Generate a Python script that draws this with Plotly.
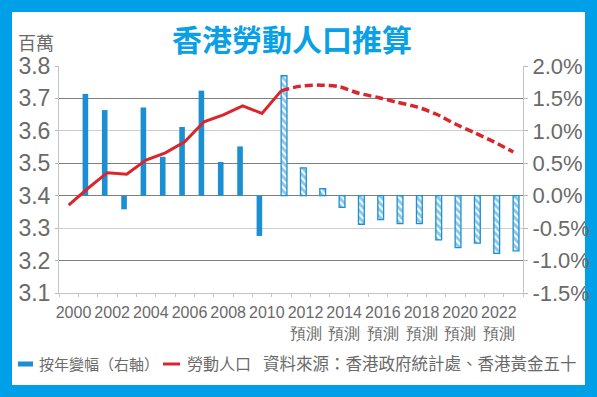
import plotly.graph_objects as go

# ---------------- data ----------------
years = list(range(2000, 2024))
labour_force = [3.371, 3.423, 3.471, 3.466, 3.510, 3.532, 3.566, 3.628, 3.649, 3.677,
                3.654, 3.724, 3.738, 3.741, 3.736, 3.716, 3.703, 3.688, 3.674, 3.652,
                3.621, 3.594, 3.566, 3.535]
actual_years = list(range(2001, 2011))
actual_change = [1.57, 1.32, -0.21, 1.36, 0.60, 1.06, 1.62, 0.52, 0.76, -0.62]
forecast_years = list(range(2011, 2024))
forecast_change = [1.85, 0.43, 0.11, -0.18, -0.44, -0.37, -0.43, -0.43, -0.68, -0.80,
                   -0.73, -0.89, -0.85]
label_years = list(range(2000, 2023, 2))
label_text = [f"{y}" if y < 2012 else f"{y}<br>預測" for y in label_years]
left_ticks = [3.1, 3.2, 3.3, 3.4, 3.5, 3.6, 3.7, 3.8]
right_ticks = [-1.5, -1.0, -0.5, 0.0, 0.5, 1.0, 1.5, 2.0]
dark_grid = [3.2, 3.4, 3.5, 3.7]

BLUE = "#1c8fd2"
RED = "#d8262c"
FRAME = "#00a0e8"
GRAY = "#6a6a6a"
NUM_FONT = "Liberation Sans Narrow, Arial Narrow, Liberation Sans, Arial, sans-serif"
CJK_FONT = "Noto Sans CJK TC, Noto Sans CJK SC, sans-serif"

split = years.index(2011)

fig = go.Figure()

# bars on main (right, %) axis
fig.add_trace(go.Bar(
    x=actual_years, y=actual_change, yaxis="y",
    width=0.29, offset=-0.28,
    marker=dict(color=BLUE, line=dict(width=0)),
    showlegend=False, hoverinfo="skip"))
fig.add_trace(go.Bar(
    x=forecast_years, y=forecast_change, yaxis="y",
    width=0.3, offset=-0.01,
    marker=dict(color="white",
                line=dict(color=BLUE, width=1.3),
                pattern=dict(shape="\\", fgcolor=BLUE, bgcolor="white",
                             size=5, solidity=0.6)),
    showlegend=False, hoverinfo="skip"))

# dummy for dark-grid axis
fig.add_trace(go.Scatter(x=[None], y=[None], yaxis="y3", showlegend=False,
                         hoverinfo="skip"))

# labour force line on left axis
fig.add_trace(go.Scatter(
    x=years[:split + 1], y=labour_force[:split + 1], yaxis="y2",
    mode="lines", line=dict(color=RED, width=3),
    showlegend=False, hoverinfo="skip"))
fig.add_trace(go.Scatter(
    x=years[split:], y=labour_force[split:], yaxis="y2",
    mode="lines", line=dict(color=RED, width=3.5, dash="8px,4px",
                            shape="spline", smoothing=0.8),
    showlegend=False, hoverinfo="skip"))

L, R, T, B = 59, 74, 66, 104
W, H = 597, 397
pw, ph = W - L - R, H - T - B


def px(x):
    return (x - L) / pw


def py(y):
    return (H - B - y) / ph


fig.update_layout(
    width=W, height=H,
    margin=dict(l=L, r=R, t=T, b=B, autoexpand=False),
    paper_bgcolor=FRAME,
    plot_bgcolor="rgba(0,0,0,0)",
    barmode="overlay",
    font=dict(family=CJK_FONT, color=GRAY),
    xaxis=dict(
        range=[1999.5, 2023.5],
        tickmode="array",
        tickvals=[y + 0.25 for y in label_years],
        ticktext=label_text,
        ticks="", tickangle=0, automargin=False, ticklabelstandoff=5,
        tickfont=dict(family=NUM_FONT, size=16, color=GRAY),
        showgrid=False, zeroline=False,
        showline=True, linecolor="#c4c4c4", linewidth=1,
        minor=dict(tick0=1999.5, dtick=1, ticks="outside", ticklen=3,
                   tickcolor="#c4c4c4", showgrid=False),
    ),
    xaxis2=dict(
        overlaying="x", matches="x", anchor="y",
        tickmode="linear", tick0=1999.5, dtick=2,
        ticks="outside", ticklen=6, tickcolor="#b8b8b8", automargin=False,
        showticklabels=False, showgrid=False, zeroline=False, showline=False,
    ),
    yaxis=dict(
        side="right", range=[-1.5, 2.0], automargin=False,
        tickmode="array", tickvals=right_ticks,
        ticktext=[f"{v:.1f}%" for v in right_ticks],
        tickfont=dict(family=NUM_FONT, size=22, color=GRAY),
        ticks="outside", ticklen=4, tickcolor="#b8b8b8",
        showgrid=True, gridcolor="#cfcfcf", gridwidth=1,
        zeroline=False,
        showline=True, linecolor="#c4c4c4", linewidth=1,
    ),
    yaxis2=dict(
        overlaying="y", side="left", range=[3.1, 3.8], automargin=False,
        tickmode="array", tickvals=left_ticks,
        ticktext=[f"{v:.1f}" for v in left_ticks],
        tickfont=dict(family=NUM_FONT, size=23, color=GRAY),
        ticks="outside", ticklen=3, tickcolor="#b8b8b8",
        showgrid=False, zeroline=False,
        showline=True, linecolor="#c4c4c4", linewidth=1,
    ),
    yaxis3=dict(
        overlaying="y", side="left", range=[3.1, 3.8], automargin=False,
        tickmode="array", tickvals=dark_grid,
        showticklabels=False, ticks="",
        showgrid=True, gridcolor="#7f7f7f", gridwidth=1,
        zeroline=False, showline=False,
    ),
    shapes=[
        dict(type="rect", xref="paper", yref="paper",
             x0=px(12), x1=px(585), y0=py(385), y1=py(12),
             fillcolor="white", line=dict(width=0), layer="below"),
        dict(type="line", xref="paper", yref="paper",
             x0=px(18), x1=px(33), y0=py(364), y1=py(364),
             line=dict(color=BLUE, width=5)),
        dict(type="line", xref="paper", yref="paper",
             x0=px(163), x1=px(180), y0=py(364), y1=py(364),
             line=dict(color=RED, width=3)),
    ],
    annotations=[
        dict(text="<b>香港勞動人口推算</b>", xref="paper", yref="paper",
             x=px(292), y=py(38), xanchor="center", yanchor="middle",
             showarrow=False,
             font=dict(family=CJK_FONT, size=30, color="#0aa0e6")),
        dict(text="百萬", xref="paper", yref="paper",
             x=px(36), y=py(42), xanchor="center", yanchor="middle",
             showarrow=False, font=dict(family=CJK_FONT, size=18, color=GRAY)),
        dict(text="按年變幅（右軸）", xref="paper", yref="paper",
             x=px(37), y=py(363), xanchor="left", yanchor="middle",
             showarrow=False, font=dict(family=CJK_FONT, size=15, color=GRAY)),
        dict(text="勞動人口", xref="paper", yref="paper",
             x=px(185), y=py(363), xanchor="left", yanchor="middle",
             showarrow=False, font=dict(family=CJK_FONT, size=16, color=GRAY)),
        dict(text="資料來源：香港政府統計處、香港黃金五十", xref="paper", yref="paper",
             x=px(261), y=py(363), xanchor="left", yanchor="middle",
             showarrow=False, font=dict(family=CJK_FONT, size=16.5, color=GRAY)),
    ],
)

fig.write_html(
    "out.html",
    config={"displayModeBar": False},
    post_script="document.body.style.margin='0';document.body.style.overflow='hidden';",
)
